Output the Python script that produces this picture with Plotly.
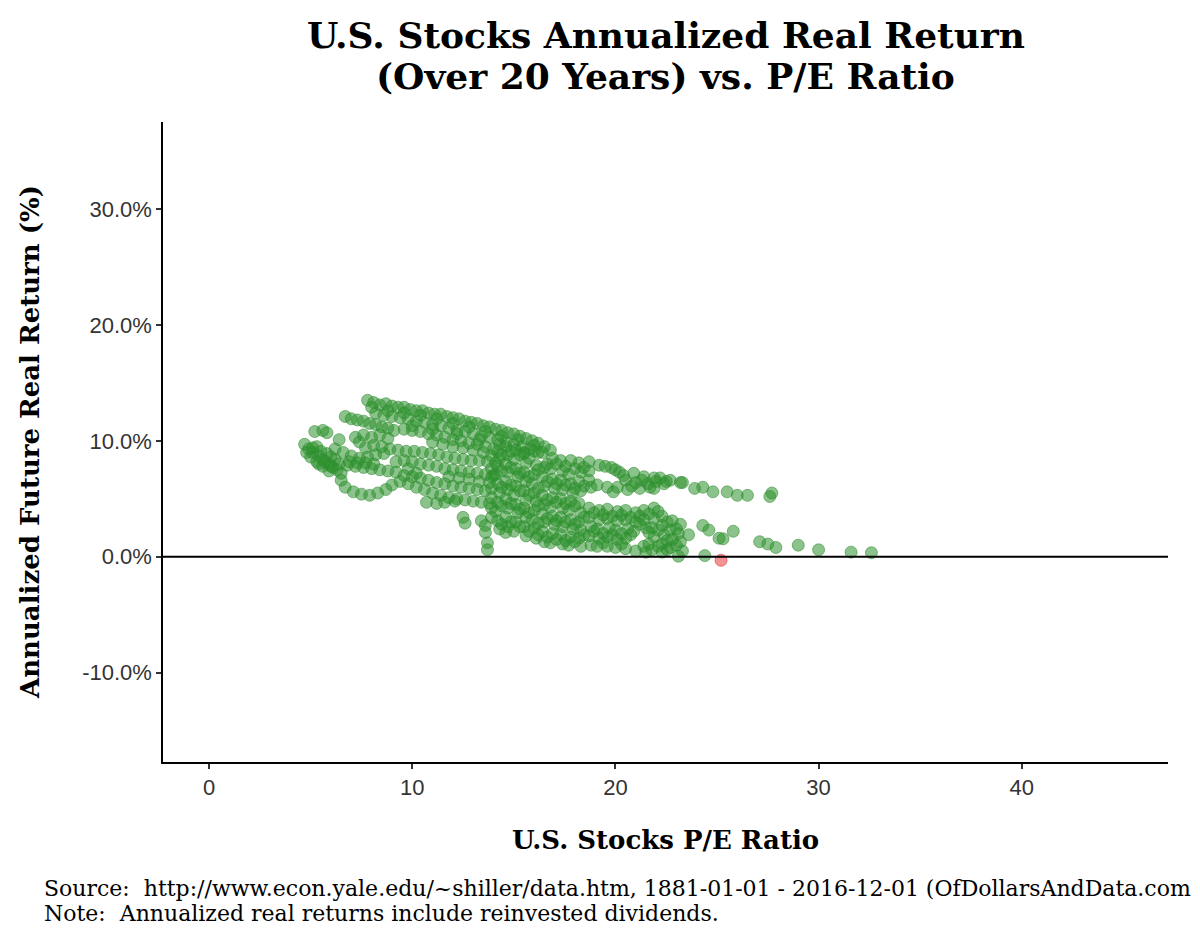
import plotly.graph_objects as go

# P/E ratio vs. annualized real return over the next 20 years (%)
upper_band = [
    (7.8, 13.5), (8.1, 13.3), (8.4, 13.1), (8.7, 13.2), (9.0, 13.0), (9.3, 12.9), (9.6, 12.9),
    (9.9, 12.7), (10.2, 12.6), (10.5, 12.6), (10.8, 12.4), (11.1, 12.3), (11.4, 12.3), (11.7, 12.1),
    (12.0, 12.0), (12.3, 11.9), (12.6, 11.7), (12.9, 11.6), (13.2, 11.5), (13.5, 11.3), (13.8, 11.2),
    (14.1, 11.0), (14.4, 10.9), (14.7, 10.7), (15.0, 10.6), (15.3, 10.4), (15.6, 10.2), (15.9, 10.0),
    (16.2, 9.8), (16.5, 9.5), (16.8, 9.2),
    (8.2, 12.4), (8.6, 12.2), (9.0, 12.1), (9.4, 12.0), (9.8, 11.9), (10.2, 11.7), (10.6, 11.6),
    (11.0, 11.4), (11.4, 11.3), (11.8, 11.1), (12.2, 10.9), (12.6, 10.8), (13.0, 10.6), (13.4, 10.4),
    (13.8, 10.3), (14.2, 10.1), (14.6, 9.9), (15.0, 9.7), (15.4, 9.5), (15.8, 9.3), (16.2, 9.0),
    (9.6, 11.0), (10.0, 10.9), (10.4, 10.8), (10.8, 10.6), (11.2, 10.5), (11.6, 10.3), (12.0, 10.1),
    (12.4, 10.0), (12.8, 9.8), (13.2, 9.7), (13.6, 9.5), (14.0, 9.3),
    (8.0, 12.9), (8.8, 12.6), (9.6, 12.4), (10.4, 12.2), (11.2, 11.9), (12.0, 11.5), (12.8, 11.2),
    (13.6, 10.8), (14.4, 10.4), (15.2, 10.1), (16.0, 9.6), (10.0, 11.3), (11.0, 11.0), (12.2, 10.6),
    (13.3, 10.1), (14.3, 9.7), (15.5, 9.0),
]

left_band = [
    (6.7, 12.1), (7.0, 11.9), (7.3, 11.8), (7.6, 11.7), (7.9, 11.5), (8.2, 11.4), (8.5, 11.2),
    (8.8, 11.1), (9.1, 10.9), (5.2, 10.8), (5.6, 10.9), (5.8, 10.7), (6.4, 10.1), (7.2, 10.3),
    (7.4, 9.9), (7.6, 10.5), (8.0, 10.3), (8.4, 10.5), (8.8, 10.2),
]

left_cluster = [
    (4.7, 9.7), (4.9, 9.3), (5.1, 9.0), (5.3, 9.5), (5.4, 8.7), (5.6, 8.4), (5.8, 8.9), (5.9, 8.0),
    (6.1, 7.7), (6.3, 7.5), (5.0, 8.6), (5.3, 8.2), (5.6, 7.8), (5.9, 7.4), (6.2, 8.4), (6.5, 7.2),
    (6.8, 7.9), (7.2, 7.8), (7.6, 7.7), (8.0, 7.6), (8.4, 7.5), (8.8, 7.4), (9.2, 7.3),
    (6.5, 6.6), (6.7, 6.0), (7.1, 5.6), (7.5, 5.4), (7.9, 5.3), (8.3, 5.5), (8.7, 5.8), (9.0, 6.2),
    (6.2, 9.3), (6.6, 9.0), (7.0, 8.7), (7.4, 8.5), (7.8, 8.6), (8.2, 8.8), (8.6, 8.9),
    (4.8, 9.0), (5.1, 9.4), (5.5, 9.1), (5.7, 8.2), (6.0, 8.6), (5.4, 8.0), (6.0, 7.8), (6.4, 8.0),
    (6.9, 8.2), (7.3, 8.1), (7.7, 8.1), (8.1, 8.0),
]

middle_band = [
    (7.7, 9.4), (8.1, 9.6), (8.5, 9.5), (8.9, 9.3), (9.3, 9.2), (9.7, 9.1), (10.1, 9.1), (10.5, 9.0),
    (10.9, 8.9), (11.3, 8.8), (11.7, 8.6), (12.1, 8.5), (12.5, 8.4), (12.9, 8.3), (13.3, 8.3),
    (13.7, 8.2), (14.1, 8.1),
    (9.2, 8.2), (9.6, 8.3), (10.0, 8.2), (10.4, 8.0), (10.8, 7.9), (11.2, 7.8), (11.6, 7.6),
    (12.0, 7.5), (12.4, 7.4), (12.8, 7.3), (13.2, 7.2), (13.6, 7.1), (14.0, 7.0), (9.8, 7.6), (10.2, 7.2),
    (11.0, 9.9), (11.5, 9.7), (12.0, 9.5), (12.5, 9.4), (13.0, 9.2), (13.5, 9.0),
    (11.8, 6.9), (12.3, 6.8), (12.8, 6.7), (13.3, 6.5), (13.8, 6.4),
    (13.9, 8.7), (13.9, 7.6), (13.9, 6.9), (13.9, 5.9), (13.9, 5.1), (13.9, 4.2), (13.9, 3.4),
]

lower_band = [
    (9.4, 6.5), (9.8, 6.3), (10.2, 6.0), (10.6, 5.8), (11.0, 5.5), (11.4, 5.3), (11.8, 5.1),
    (12.2, 5.0), (12.6, 4.9), (13.0, 4.8), (13.4, 4.7), (13.8, 4.6), (10.7, 4.7), (11.2, 4.6),
    (11.6, 4.7), (12.1, 4.8),
    (9.6, 7.0), (10.0, 6.9), (10.4, 6.8), (10.8, 6.6), (11.2, 6.4), (11.6, 6.3), (12.0, 6.1),
    (12.4, 6.0), (12.8, 5.9), (13.2, 5.8), (13.6, 5.7),
    (12.5, 3.4), (12.6, 2.9), (13.4, 3.1), (13.6, 2.7), (13.6, 2.1), (13.7, 1.2), (13.7, 0.6),
]

main_body = [
    (14.2, 9.1), (14.3, 8.5), (14.2, 7.8), (14.1, 7.1), (14.2, 6.3), (14.3, 5.5), (14.2, 4.7),
    (14.1, 3.9), (14.2, 3.1), (14.3, 2.4),
    (14.6, 9.5), (14.7, 8.8), (14.6, 8.0), (14.7, 7.3), (14.6, 6.5), (14.7, 5.8), (14.6, 5.0),
    (14.7, 4.2), (14.6, 3.4), (14.7, 2.6), (14.6, 2.1),
    (15.1, 9.2), (15.0, 8.4), (15.1, 7.6), (15.2, 6.9), (15.1, 6.1), (15.0, 5.3), (15.1, 4.5),
    (15.2, 3.8), (15.1, 3.0), (15.0, 2.2),
    (15.5, 8.9), (15.6, 8.1), (15.5, 7.3), (15.6, 6.5), (15.5, 5.7), (15.6, 4.9), (15.5, 4.2),
    (15.6, 3.4), (15.5, 2.6), (15.6, 1.8),
    (16.0, 9.1), (16.1, 7.9), (16.0, 7.1), (15.9, 6.3), (16.0, 5.5), (16.1, 4.8), (16.0, 4.0),
    (15.9, 3.2), (16.0, 2.5), (16.1, 1.6),
    (16.4, 9.0), (16.5, 7.7), (16.4, 6.9), (16.5, 6.1), (16.4, 5.3), (16.5, 4.5), (16.4, 3.7),
    (16.5, 3.0), (16.4, 2.2), (16.5, 1.3),
    (16.9, 8.5), (16.8, 7.6), (16.9, 6.7), (17.0, 5.9), (16.9, 5.1), (16.8, 4.3), (16.9, 3.5),
    (17.0, 2.8), (16.9, 2.0), (16.8, 1.2),
    (17.3, 8.3), (17.4, 7.4), (17.3, 6.6), (17.4, 5.8), (17.3, 5.0), (17.4, 4.2), (17.3, 3.4),
    (17.4, 2.6), (17.3, 1.9), (17.4, 1.1),
    (17.8, 8.3), (17.7, 7.1), (17.8, 6.3), (17.9, 5.5), (17.8, 4.8), (17.7, 4.0), (17.8, 3.2),
    (17.9, 2.4), (17.8, 1.7), (17.7, 1.0),
    (18.2, 8.1), (18.3, 7.3), (18.2, 6.5), (18.3, 5.7), (18.2, 4.6), (18.3, 3.8), (18.2, 3.0),
    (18.3, 2.3), (18.2, 1.6), (18.3, 0.9),
]

main_body_between = [
    (14.4, 8.8), (14.4, 7.4), (14.4, 6.0), (14.4, 4.4), (14.4, 2.8),
    (14.85, 9.1), (14.85, 7.7), (14.85, 6.2), (14.85, 4.6), (14.85, 3.0),
    (15.3, 8.8), (15.3, 7.2), (15.3, 5.7), (15.3, 4.1), (15.3, 2.6),
    (15.75, 8.5), (15.75, 6.9), (15.75, 5.3), (15.75, 3.8), (15.75, 2.2),
    (16.2, 7.5), (16.2, 5.9), (16.2, 4.4), (16.2, 2.9), (16.2, 1.9),
    (16.65, 8.0), (16.65, 6.5), (16.65, 4.9), (16.65, 3.3), (16.65, 1.7),
    (17.1, 8.0), (17.1, 6.3), (17.1, 4.7), (17.1, 3.1), (17.1, 1.5),
    (17.55, 7.8), (17.55, 6.2), (17.55, 4.6), (17.55, 3.0), (17.55, 1.4),
    (18.0, 7.6), (18.0, 5.9), (18.0, 4.4), (18.0, 2.8), (18.0, 1.3),
    (18.45, 7.7), (18.45, 6.1), (18.45, 3.4), (18.45, 1.9),
]

upper_tail = [
    (18.7, 8.2), (18.7, 7.4), (18.7, 6.6), (18.8, 6.0), (19.2, 7.9), (19.1, 6.2), (19.5, 7.8),
    (19.6, 6.0), (19.9, 5.6), (20.0, 7.5), (20.1, 6.0), (20.2, 7.3), (20.5, 6.6), (20.6, 5.8),
    (20.9, 7.2), (21.0, 6.4), (21.2, 5.9), (21.4, 6.9), (21.6, 6.3), (21.9, 6.8), (21.9, 5.9),
    (22.2, 6.8), (22.4, 6.3), (22.7, 6.6), (23.2, 6.4), (23.3, 6.4), (23.9, 5.9), (24.3, 6.0),
    (24.8, 5.6), (25.5, 5.6), (26.0, 5.3), (26.5, 5.3), (27.6, 5.2), (27.7, 5.5),
    (19.8, 7.7), (20.4, 7.0), (20.8, 6.1), (21.3, 6.6), (21.7, 6.0), (22.0, 6.5), (22.5, 6.5),
]

lower_tail = [
    (18.7, 4.2), (18.7, 3.4), (18.8, 2.6), (18.7, 1.8), (18.8, 1.0),
    (19.2, 4.0), (19.2, 3.2), (19.1, 2.4), (19.2, 1.6), (19.1, 0.9),
    (19.6, 4.1), (19.6, 3.3), (19.7, 2.5), (19.6, 1.7), (19.6, 0.9),
    (20.1, 3.9), (20.1, 3.1), (20.0, 2.3), (20.1, 1.5), (20.0, 0.8),
    (20.5, 4.0), (20.5, 3.2), (20.6, 2.4), (20.5, 1.6), (20.5, 0.7),
    (21.0, 3.8), (21.0, 3.0), (20.9, 2.2), (21.0, 0.5),
    (21.4, 4.0), (21.4, 3.2), (21.5, 2.5), (21.4, 0.9), (21.5, 0.4),
    (21.9, 4.2), (21.9, 3.3), (21.8, 2.5), (21.9, 1.7), (21.8, 0.6),
    (22.3, 3.5), (22.3, 2.7), (22.4, 1.9), (22.3, 1.1), (22.3, 0.4),
    (22.8, 3.1), (22.7, 2.3), (22.8, 1.5), (22.7, 0.8),
    (23.2, 2.8), (23.1, 2.0), (23.2, 1.3), (23.3, 0.5), (23.1, 0.05), (23.6, 1.9),
    (18.95, 3.8), (18.95, 2.2), (19.4, 3.6), (19.4, 2.0), (19.4, 1.2), (19.85, 3.5), (19.85, 1.9),
    (20.3, 3.6), (20.3, 2.0), (20.3, 1.1), (20.75, 3.4), (20.75, 1.9), (21.2, 3.5), (21.2, 2.8),
    (21.65, 3.7), (21.65, 2.1), (21.65, 1.1), (22.1, 3.9), (22.1, 2.3), (22.1, 0.9), (22.55, 3.0),
    (22.55, 1.4), (22.55, 0.6), (23.0, 2.4), (23.0, 1.0),
    (24.3, 2.7), (24.6, 2.3), (25.1, 1.6), (25.3, 1.55), (25.8, 2.2), (24.4, 0.1),
    (27.1, 1.3), (27.5, 1.1), (27.9, 0.8), (29.0, 1.0), (30.0, 0.6), (31.6, 0.4), (32.6, 0.35),
]

negative_points = [(25.2, -0.3)]

x_ticks = [0, 10, 20, 30, 40]
y_ticks = [-10, 0, 10, 20, 30]

title_lines = ["U.S. Stocks Annualized Real Return", "(Over 20 Years) vs. P/E Ratio"]
source_text = "Source:  http://www.econ.yale.edu/~shiller/data.htm, 1881-01-01 - 2016-12-01 (OfDollarsAndData.com)"
note_text = "Note:  Annualized real returns include reinvested dividends."

green = (upper_band + left_band + left_cluster + middle_band + lower_band + main_body
         + main_body_between + upper_tail + lower_tail)

fig = go.Figure()
fig.add_trace(go.Scatter(
    x=[p[0] for p in green], y=[p[1] for p in green],
    mode="markers",
    marker=dict(size=12, color="rgba(46,145,46,0.55)",
                line=dict(color="rgba(46,140,46,0.55)", width=1)),
    showlegend=False,
))
fig.add_trace(go.Scatter(
    x=[p[0] for p in negative_points], y=[p[1] for p in negative_points],
    mode="markers",
    marker=dict(size=12, color="rgba(232,60,60,0.55)",
                line=dict(color="rgba(225,50,50,0.6)", width=1)),
    showlegend=False,
))

fig.add_shape(type="line", xref="paper", x0=0, x1=1, yref="y", y0=0, y1=0,
              line=dict(color="black", width=2))

axis_common = dict(showgrid=False, zeroline=False, showline=True, linecolor="black",
                   linewidth=1.5, ticks="outside", ticklen=5, tickwidth=1.5, tickcolor="#333",
                   tickfont=dict(family="Liberation Sans, Arial", size=22, color="#333"))

fig.update_xaxes(range=[-2.27, 47.2], tickmode="array", tickvals=x_ticks, **axis_common)
fig.update_yaxes(range=[-17.7, 37.5], tickmode="array", tickvals=y_ticks,
                 ticktext=[f"{v:.1f}%" for v in y_ticks], **axis_common)

serif = "DejaVu Serif, Liberation Serif, serif"
W, H = 1192, 942
fig.update_layout(
    width=W, height=H,
    margin=dict(l=155, r=32, t=114, b=188),
    plot_bgcolor="white", paper_bgcolor="white",
)

# title lines placed in pixel terms relative to the plot area (top at 114 px)
plot_h = H - 114 - 188
for i, line in enumerate(title_lines):
    y_px = 27 + 41 * i
    fig.add_annotation(text=f"<b>{line}</b>", xref="paper", yref="paper",
                       x=0.5, y=1 + (114 - y_px) / plot_h, xanchor="center", yanchor="middle",
                       showarrow=False, font=dict(family=serif, size=36, color="black"))

fig.add_annotation(text="<b>U.S. Stocks P/E Ratio</b>", xref="paper", yref="paper",
                   x=0.5, y=-0.122, xanchor="center", yanchor="middle", showarrow=False,
                   font=dict(family=serif, size=26, color="black"))
fig.add_annotation(text="<b>Annualized Future Real Return (%)</b>", xref="paper", yref="paper",
                   x=-0.1323, y=0.5, textangle=-90, xanchor="center", yanchor="middle",
                   showarrow=False, font=dict(family=serif, size=26, color="black"))
fig.add_annotation(text=source_text, xref="paper", yref="paper", x=-0.1204, y=-0.197,
                   xanchor="left", yanchor="middle", showarrow=False,
                   font=dict(family=serif, size=22, color="black"))
fig.add_annotation(text=note_text, xref="paper", yref="paper", x=-0.1204, y=-0.236,
                   xanchor="left", yanchor="middle", showarrow=False,
                   font=dict(family=serif, size=22, color="black"))

fig.write_html("out.html")
